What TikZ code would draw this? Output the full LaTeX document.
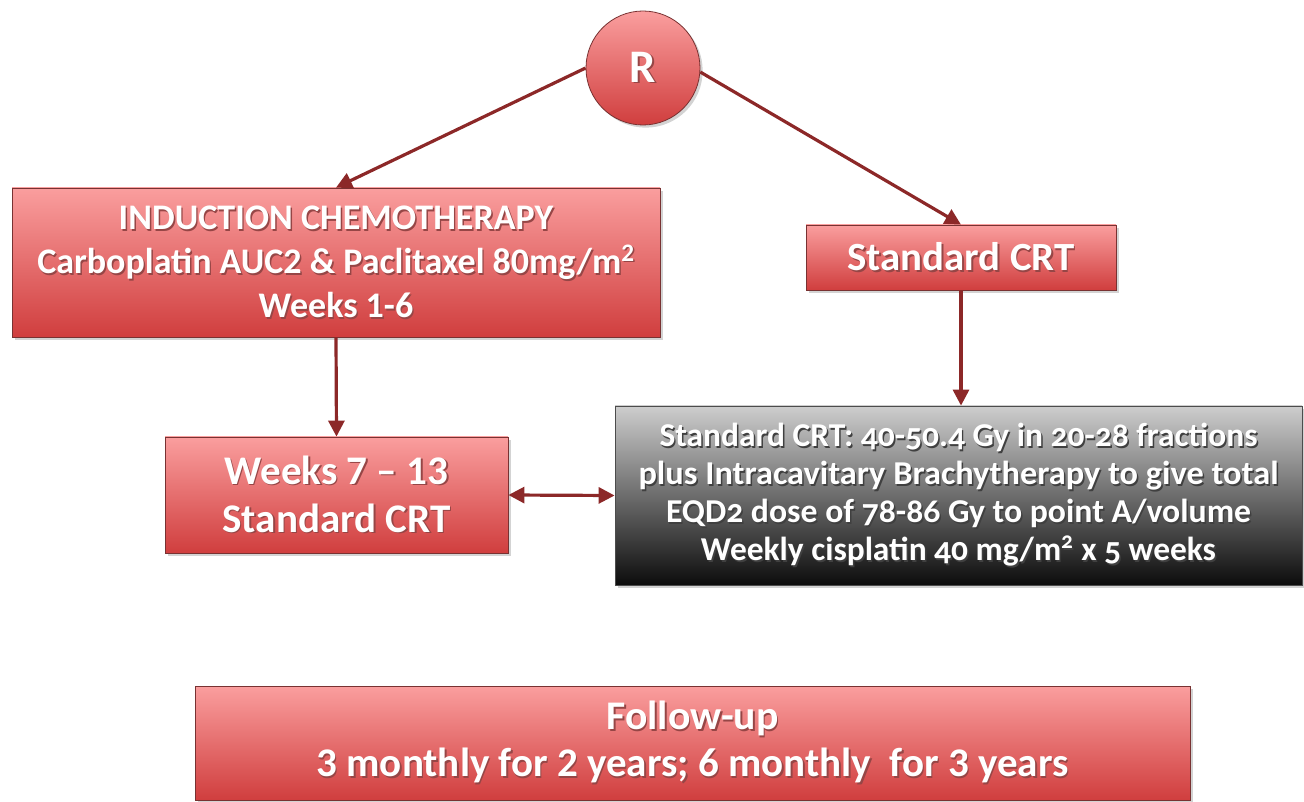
\documentclass[tikz,border=0pt]{standalone}
\usepackage{fontspec}
\usepackage{graphicx}
\setmainfont{Carlito}
\usetikzlibrary{arrows.meta,shadows,calc}
\definecolor{redtop}{RGB}{250,158,158}
\definecolor{redbot}{RGB}{208,62,62}
\definecolor{redline}{RGB}{120,50,50}
\definecolor{arrowred}{RGB}{140,40,40}
\definecolor{graytop}{RGB}{205,205,205}
\definecolor{graybot}{RGB}{12,12,12}
\definecolor{shadowc}{RGB}{150,70,70}
\newdimen\px \px=0.75pt
\newcommand\shd[1]{\makebox[0pt][l]{\raisebox{-1.3pt}{\hspace{1.1pt}\textcolor{shadowc}{#1}}}#1}
\newcommand\fitl[2]{\resizebox{#1\px}{\height}{\shd{#2}}}
\tikzset{
  redbox/.style={rectangle, draw=redline, line width=0.6pt, top color=redtop, bottom color=redbot,
    text=white, align=center, font=\bfseries, inner sep=0pt,
    drop shadow={opacity=0.35, shadow xshift=2pt, shadow yshift=-2pt}},
  graybox/.style={rectangle, draw=black!70, line width=0.6pt, top color=graytop, bottom color=graybot,
    text=white, align=center, font=\bfseries, inner sep=0pt,
    drop shadow={opacity=0.35, shadow xshift=2pt, shadow yshift=-2pt}},
  rcircle/.style={circle, draw=redline, line width=0.6pt, top color=redtop, bottom color=redbot,
    text=white, font=\bfseries\fontsize{35}{40}\selectfont, inner sep=0pt, minimum size=85.5pt,
    drop shadow={opacity=0.35, shadow xshift=2pt, shadow yshift=-2pt}},
  conn/.style={draw=arrowred, line width=2.4pt, -{Triangle[length=12pt,width=12pt]}},
  conn2/.style={draw=arrowred, line width=2.4pt, {Triangle[length=12pt,width=12pt]}-{Triangle[length=12pt,width=12pt]}}
}
\begin{document}
\begin{tikzpicture}[x=0.75pt,y=-0.75pt]
\useasboundingbox (0,0) rectangle (1304,802);
\node[rcircle] (R) at (643,68) {\shd{R}};
\node[redbox, minimum width=486pt, minimum height=111.75pt,
  font=\bfseries\fontsize{27}{33}\selectfont] (ind) at (336,262.5)
  {\shd{INDUCTION CHEMOTHERAPY}\\\shd{Carboplatin AUC2 \& Paclitaxel 80mg/m\textsuperscript{2}}\\\shd{Weeks 1-6}};
\node[redbox, minimum width=232.5pt, minimum height=48.75pt,
  font=\bfseries\fontsize{30}{32}\selectfont] (std) at (961,257.5) {\fitl{227}{Standard CRT}};
\node[redbox, minimum width=257.25pt, minimum height=87pt,
  font=\bfseries\fontsize{30.5}{36}\selectfont] (wk) at (336.5,495) {\fitl{224}{Weeks 7 -- 13}\\\fitl{228}{Standard CRT}};
\node[graybox, minimum width=515.25pt, minimum height=134.25pt,
  font=\bfseries\fontsize{25}{28.5}\selectfont\addfontfeatures{Numbers=OldStyle}\colorlet{shadowc}{black!75}] (gray) at (958.5,495.5)
  {\fitl{598}{Standard CRT: 40-50.4 Gy in 20-28 fractions}\\\fitl{640}{plus Intracavitary Brachytherapy to give total}\\\fitl{585}{EQD2 dose of 78-86 Gy to point A/volume}\\\fitl{515}{Weekly cisplatin 40 mg/m\textsuperscript{2} x 5 weeks}};
\node[redbox, minimum width=746.25pt, minimum height=85.5pt,
  font=\bfseries\fontsize{30.5}{35}\selectfont] (fu) at (692.5,743)
  {\fitl{172}{Follow-up}\\\fitl{752}{3 monthly for 2 years; 6 monthly\ \ for 3 years}};
\draw[conn] (R.west) -- (ind.north);
\draw[conn] (R.-4) -- (std.north);
\draw[conn] (ind.south) -- (wk.north);
\draw[conn] (std.south) -- (std.south |- gray.north);
\draw[conn2] (wk.east) -- (gray.west);
\end{tikzpicture}
\end{document}
